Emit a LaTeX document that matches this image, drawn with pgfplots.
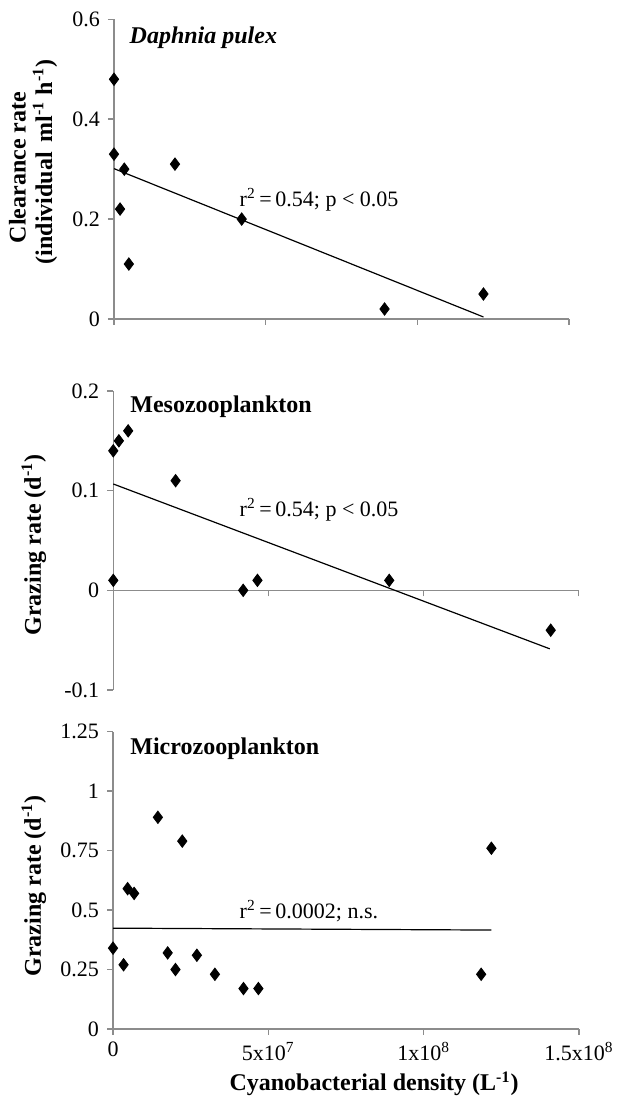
\documentclass[border=0pt]{standalone}
\usepackage{fontspec}
\setmainfont{Liberation Serif}
\usepackage{pgfplots}
\pgfplotsset{compat=1.18}
\definecolor{axgray}{RGB}{140,140,140}
\pgfplotsset{
  panel/.style={
    scale only axis, anchor=south west, clip=false,
    axis line style={axgray, line width=0.75pt, -},
    every tick/.style={axgray, line width=0.75pt},
    tick align=outside, major tick length=3pt,
    xmin=0, xmax=1.5e8, xtick={0,5e7,1e8,1.5e8}, scaled x ticks=false,
    tick label style={font=\fontsize{11}{13}\selectfont, black},
    yticklabel style={xshift=-0.5pt},
    /pgf/number format/assume math mode=true,
  },
  pts/.style={only marks, mark=diamond*, mark size=3.1pt, mark options={fill=black, draw=black}},
  fit/.style={black, line width=0.6pt, no marks},
}
\begin{document}
\begin{tikzpicture}
% Panel 1
\begin{axis}[panel, at={(57pt,389pt)}, width=227.5pt, height=149.85pt,
  axis x line*=bottom, axis y line*=left,
  ymin=0, ymax=0.6, ytick={0,0.2,0.4,0.6}, yticklabels={0,0.2,0.4,0.6},
  xticklabels={}]
\addplot[pts] coordinates {(0,0.48) (0,0.33) (3.4e6,0.30) (2.0e6,0.22) (4.9e6,0.11) (2.01e7,0.31) (4.21e7,0.20) (8.92e7,0.02) (1.218e8,0.05)};
\addplot[fit] coordinates {(0,0.301) (1.218e8,0.004)};
\end{axis}
% Panel 2
\begin{axis}[panel, at={(56.65pt,203.5pt)}, width=232.5pt, height=149.5pt,
  axis x line*=middle, axis y line*=left,
  ymin=-0.1, ymax=0.2, ytick={-0.1,0,0.1,0.2}, yticklabels={-0.1,0,0.1,0.2},
  xticklabels={}]
\addplot[pts] coordinates {(0,0.14) (1.8e6,0.15) (4.8e6,0.16) (2.01e7,0.11) (0,0.01) (4.19e7,0) (4.65e7,0.01) (8.9e7,0.01) (1.411e8,-0.04)};
\addplot[fit] coordinates {(0,0.1067) (1.408e8,-0.0587)};
\end{axis}
% Panel 3
\begin{axis}[panel, at={(56.5pt,34pt)}, width=233pt, height=148.65pt,
  axis x line*=bottom, axis y line*=left,
  ymin=0, ymax=1.25, ytick={0,0.25,0.5,0.75,1,1.25}, yticklabels={0,0.25,0.5,0.75,1,1.25},
  xticklabels={0,5x10\textsuperscript{7},1x10\textsuperscript{8},1.5x10\textsuperscript{8}}]
\addplot[pts] coordinates {(0,0.34) (3.4e6,0.27) (4.7e6,0.59) (6.8e6,0.57) (1.445e7,0.89) (1.76e7,0.32) (2.01e7,0.25) (2.23e7,0.79) (2.70e7,0.31) (3.28e7,0.23) (4.2e7,0.17) (4.68e7,0.17) (1.185e8,0.23) (1.218e8,0.76)};
\addplot[fit] coordinates {(0,0.424) (1.218e8,0.416)};
\end{axis}
% texts
\tikzset{ann/.style={inner sep=0pt, anchor=base west, font=\fontsize{11}{13}\selectfont},
         ttl/.style={inner sep=0pt, anchor=base west, font=\fontsize{12}{14}\selectfont\bfseries},
         ylab/.style={inner sep=0pt, anchor=base, rotate=90, font=\fontsize{12}{14}\selectfont\bfseries}}
\node[ttl, font=\fontsize{12}{14}\selectfont\bfseries\itshape] at (64.65pt,526.5pt) {Daphnia pulex};
\node[ttl] at (65pt,342.35pt) {Mesozooplankton};
\node[ttl] at (65pt,171.35pt) {Microzooplankton};
\node[ann] at (119.65pt,445.15pt) {r\textsuperscript{2}\,=\,0.54; p < 0.05};
\node[ann] at (119.65pt,290.15pt) {r\textsuperscript{2}\,=\,0.54; p < 0.05};
\node[ann] at (119.65pt,89.35pt) {r\textsuperscript{2}\,=\,0.0002; n.s.};
\node[ylab] at (12.75pt,464.75pt) {Clearance rate};
\node[ylab] at (26pt,467.5pt) {(individual\, ml\textsuperscript{-1} h\textsuperscript{-1})};
\node[ylab] at (20.4pt,276pt) {Grazing rate (d\textsuperscript{-1})};
\node[ylab] at (20.4pt,105.5pt) {Grazing rate (d\textsuperscript{-1})};
\node[inner sep=0pt, anchor=base, font=\fontsize{12}{14}\selectfont\bfseries] at (187pt,3pt) {Cyanobacterial density (L\textsuperscript{-1})};
\pgfresetboundingbox
\useasboundingbox (0,0) rectangle (308pt,548.5pt);
\end{tikzpicture}
\end{document}
